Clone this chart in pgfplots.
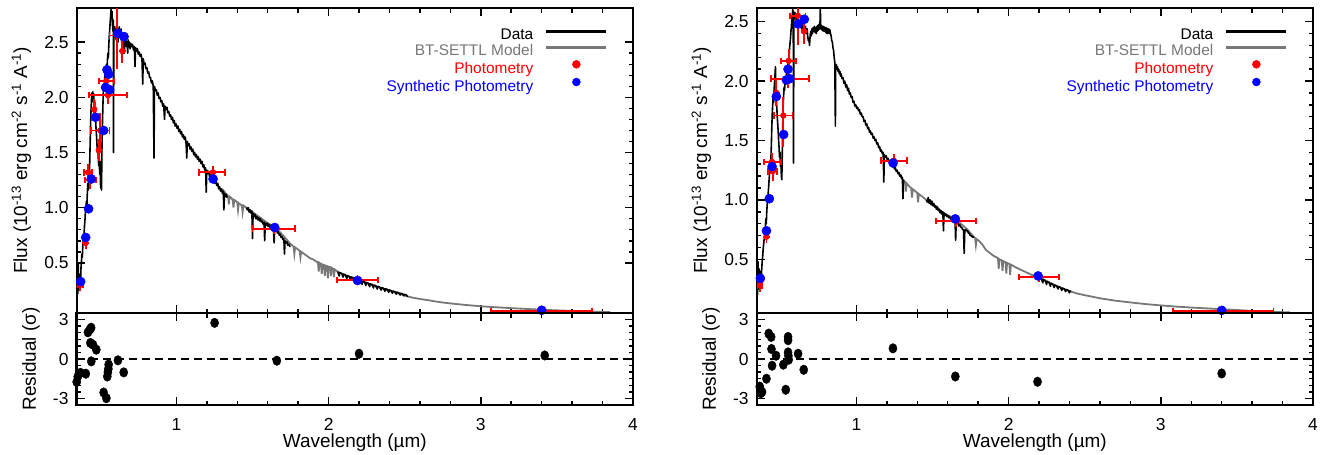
\documentclass[border=0pt]{standalone}
\usepackage{fontspec}
\setmainfont{Liberation Sans}
\usepackage{pgfplots}
\usepackage{pgfplotstable}
\pgfplotsset{compat=1.18}
\definecolor{modelgray}{RGB}{120,120,120}
\pgfplotsset{
 sedbase/.style={
  scale only axis, width=556.3bp, xmin=0.345, xmax=4,
  axis line style={line width=2.4bp},
  every tick/.style={black, line width=1.5bp},
  major tick length=8bp, minor tick length=4.5bp,
  tick align=inside,
  xtick={1,2,3,4}, minor x tick num=4,
  /pgf/number format/assume math mode=true,
  tick label style={font=\fontsize{17.5}{20}\selectfont},
  label style={font=\fontsize{19}{22}\selectfont},
 },
 sedmain/.style={sedbase, height=305bp, xticklabels={},
  ytick={0.5,1,1.5,2,2.5}, minor y tick num=4,
  yticklabel style={anchor=east, inner sep=0pt, xshift=-8bp, /pgf/number format/.cd, fixed, fixed zerofill, precision=1},
  ylabel={Flux (10\textsuperscript{-13} erg cm\textsuperscript{-2} s\textsuperscript{-1} A\textsuperscript{-1})},
  ylabel style={at={(axis description cs:-0.089,0.5)}, anchor=base},
  legend style={draw=none, fill=none, at={(0.955,0.934)}, anchor=north east, inner sep=0pt, outer sep=0pt,
    font=\fontsize{15.5}{16}\selectfont,
    nodes={inner sep=0pt, text height=11.5bp, text depth=3.5bp},
    /tikz/row sep=1bp, /tikz/column sep=11.5bp},
  legend cell align=right, legend plot pos=right,
 },
 sedres/.style={sedbase, height=92bp, ymin=-3.5, ymax=3.5,
  ytick={-3,0,3}, yticklabels={-3,0,3}, minor y tick num=5,
  yticklabel style={anchor=east, inner sep=0pt, xshift=-8bp},
  xticklabel style={anchor=base, yshift=-25bp},
  xlabel={Wavelength (µm)},
  xlabel style={at={(axis description cs:0.5,-0.467)}, anchor=base},
  ylabel={Residual (σ)},
  ylabel style={at={(axis description cs:-0.0732,0.5)}, anchor=base},
 },
 specdata/.style={black, line width=1.6bp, line join=round, forget plot},
 specmodel/.style={modelgray, line width=1.8bp, forget plot},
 photredx/.style={only marks, mark=*, mark size=2.8bp, red, forget plot,
   error bars/.cd, x dir=both, x explicit, error mark=|,
   error bar style={red, line width=1.8bp},
   error mark options={red, mark size=3.2bp, line width=1.8bp}},
 photredy/.style={only marks, mark=*, mark size=2.8bp, red, forget plot,
   error bars/.cd, y dir=both, y explicit, error mark=-,
   error bar style={red, line width=1.8bp},
   error mark options={red, mark size=3.2bp, line width=1.8bp}},
 photblue/.style={only marks, mark=*, mark size=4.6bp, blue, forget plot},
 resid/.style={only marks, mark=*, mark size=4.8bp, black, mark options={xscale=0.85}},
 zeroline/.style={black, line width=1.8bp, dash pattern=on 8bp off 5bp},
}
\newcommand{\sedlegend}{%
  \addlegendimage{legend image code/.code={\draw[black, line width=3.2bp] (0bp,4bp) -- (60bp,4bp);}}
  \addlegendentry{Data}
  \addlegendimage{legend image code/.code={\draw[modelgray, line width=3.2bp] (0bp,4bp) -- (60bp,4bp);}}
  \addlegendentry{\textcolor{modelgray}{BT-SETTL Model}}
  \addlegendimage{legend image code/.code={\fill[red] (30bp,5bp) circle (4bp);}}
  \addlegendentry{\textcolor{red}{Photometry}}
  \addlegendimage{legend image code/.code={\fill[blue] (30bp,5bp) circle (4bp);}}
  \addlegendentry{\textcolor{blue}{Synthetic Photometry}}
}
\pgfplotstableread[row sep=\\]{
x y xm xp ym yp\\
0.368 0.30 0.02 0.02 0.03 0.03\\
0.404 0.68 0 0 0.03 0.03\\
0.420 1.32 0.025 0.025 0.05 0.05\\
0.435 1.25 0.035 0.035 0.05 0.05\\
0.460 1.89 0 0 0.07 0.07\\
0.500 1.70 0.06 0.06 0.13 0.13\\
0.490 1.52 0 0 0.07 0.07\\
0.550 2.02 0.125 0.125 0.05 0.05\\
0.540 2.15 0.05 0.05 0.05 0.05\\
0.610 2.56 0.05 0.05 0.27 0.25\\
0.645 2.42 0 0 0.08 0.08\\
1.240 1.32 0.09 0.08 0.03 0.03\\
1.640 0.81 0.14 0.14 0.02 0.02\\
2.190 0.345 0.135 0.135 0.015 0.015\\
3.400 0.064 0.335 0.33 0.01 0.01\\
}\photL
\pgfplotstableread[row sep=\\]{
x y xm xp ym yp\\
0.365 0.28 0.015 0.015 0.03 0.03\\
0.409 0.69 0 0 0.03 0.03\\
0.445 1.32 0.05 0.06 0.05 0.05\\
0.450 1.24 0.03 0.03 0.05 0.05\\
0.474 1.90 0 0 0.08 0.08\\
0.520 1.71 0.06 0.06 0.24 0.13\\
0.550 2.02 0.11 0.14 0.05 0.05\\
0.555 2.17 0.05 0.05 0.07 0.07\\
0.615 2.55 0.05 0.05 0.22 0.07\\
0.655 2.42 0 0 0.08 0.08\\
1.245 1.33 0.085 0.085 0.03 0.03\\
1.655 0.82 0.13 0.13 0.02 0.02\\
2.200 0.35 0.13 0.13 0.015 0.015\\
3.410 0.067 0.33 0.33 0.01 0.01\\
}\photR
\begin{document}
\begin{tikzpicture}
\path[use as bounding box] (0,0) rectangle (1325bp,-455bp);
% ================= LEFT MAIN =================
\begin{axis}[sedmain, at={(76.7bp,-313bp)}, anchor=south west, ymin=0.045, ymax=2.81]
\addplot[specmodel] coordinates {(1.300,1.17)(1.330,1.12)(1.340,1.10)(1.345,1.03)(1.350,1.10)(1.360,1.09)(1.370,1.07)(1.375,1.00)(1.380,1.07)(1.390,1.06)(1.400,1.05)(1.405,0.98)(1.410,1.04)(1.420,1.03)(1.430,1.02)(1.435,0.96)(1.440,1.02)(1.450,1.01)(1.460,1.00)(1.500,0.96)(1.550,0.91)(1.600,0.86)(1.650,0.82)(1.700,0.75)(1.750,0.67)(1.760,0.66)(1.770,0.645)(1.775,0.58)(1.780,0.64)(1.800,0.62)(1.810,0.61)(1.815,0.55)(1.820,0.60)(1.840,0.58)(1.860,0.56)(1.880,0.54)(1.900,0.53)(1.920,0.51)(1.930,0.505)(1.935,0.42)(1.940,0.50)(1.950,0.49)(1.955,0.40)(1.960,0.485)(1.970,0.48)(1.975,0.38)(1.980,0.475)(1.990,0.47)(1.995,0.36)(2.000,0.465)(2.010,0.46)(2.015,0.38)(2.020,0.455)(2.030,0.445)(2.035,0.37)(2.040,0.44)(2.060,0.42)(2.100,0.39)(2.200,0.34)(2.300,0.29)(2.400,0.245)(2.500,0.205)(2.520,0.195)(2.550,0.185)(2.600,0.172)(2.650,0.162)(2.700,0.150)(2.750,0.140)(2.800,0.132)(2.850,0.125)(2.900,0.118)(2.950,0.112)(3.000,0.106)(3.100,0.097)(3.200,0.089)(3.300,0.082)(3.400,0.075)(3.500,0.069)(3.600,0.064)(3.700,0.059)(3.800,0.055)(3.850,0.053)};
\addplot[specdata] coordinates {(0.340,0.20)(0.343,0.42)(0.346,0.15)(0.349,0.45)(0.352,0.22)(0.355,0.50)(0.358,0.28)(0.361,0.40)(0.364,0.25)(0.367,0.38)(0.370,0.30)(0.373,0.45)(0.376,0.50)(0.379,0.58)(0.382,0.55)(0.385,0.65)(0.388,0.72)(0.391,0.68)(0.394,0.78)(0.397,0.85)(0.400,0.90)(0.403,0.98)(0.406,1.00)(0.409,1.06)(0.412,1.02)(0.415,1.14)(0.418,1.22)(0.421,1.16)(0.424,1.26)(0.427,1.30)(0.430,1.38)(0.433,1.56)(0.436,1.74)(0.439,1.88)(0.442,1.97)(0.445,2.04)(0.448,1.96)(0.451,2.05)(0.454,1.98)(0.457,2.03)(0.460,1.92)(0.463,1.97)(0.466,1.86)(0.469,1.80)(0.472,1.72)(0.475,1.66)(0.478,1.58)(0.481,1.50)(0.484,1.56)(0.487,1.44)(0.490,1.38)(0.493,1.46)(0.496,1.30)(0.499,1.42)(0.502,1.18)(0.505,1.40)(0.508,1.16)(0.511,1.55)(0.514,1.75)(0.517,1.92)(0.520,2.05)(0.523,2.12)(0.526,2.08)(0.529,2.18)(0.532,2.22)(0.535,2.16)(0.538,2.26)(0.541,2.30)(0.544,2.24)(0.547,2.34)(0.550,2.40)(0.553,2.36)(0.556,2.48)(0.559,2.55)(0.562,2.62)(0.565,2.68)(0.568,2.74)(0.571,2.80)(0.574,2.72)(0.577,2.78)(0.580,2.66)(0.583,2.60)(0.586,2.70)(0.587,1.50)(0.589,2.62)(0.592,2.58)(0.595,2.64)(0.598,2.55)(0.601,2.60)(0.604,2.52)(0.607,2.62)(0.610,2.56)(0.613,2.60)(0.616,2.50)(0.619,2.62)(0.622,2.58)(0.625,2.64)(0.628,2.54)(0.631,2.60)(0.634,2.56)(0.637,2.62)(0.640,2.50)(0.643,2.58)(0.646,2.54)(0.649,2.46)(0.652,2.56)(0.655,2.52)(0.658,2.40)(0.661,2.54)(0.664,2.50)(0.668,2.52)(0.672,2.46)(0.676,2.50)(0.680,2.40)(0.684,2.52)(0.688,2.48)(0.692,2.50)(0.696,2.44)(0.700,2.49)(0.706,2.46)(0.712,2.48)(0.718,2.43)(0.724,2.46)(0.728,2.28)(0.732,2.45)(0.738,2.42)(0.744,2.44)(0.750,2.39)(0.756,2.41)(0.762,2.37)(0.768,2.39)(0.774,2.34)(0.779,2.12)(0.782,2.35)(0.788,2.30)(0.794,2.31)(0.800,2.26)(0.806,2.27)(0.812,2.22)(0.818,2.23)(0.824,2.18)(0.830,2.18)(0.836,2.13)(0.842,2.15)(0.848,2.10)(0.853,1.45)(0.856,2.10)(0.862,2.06)(0.868,2.07)(0.874,2.02)(0.880,2.04)(0.886,1.99)(0.892,2.00)(0.898,1.96)(0.904,1.97)(0.910,1.92)(0.916,1.94)(0.922,1.80)(0.926,1.92)(0.932,1.89)(0.938,1.91)(0.944,1.86)(0.950,1.87)(0.956,1.83)(0.962,1.84)(0.968,1.80)(0.974,1.82)(0.980,1.77)(0.986,1.79)(0.992,1.74)(0.998,1.76)(1.004,1.72)(1.010,1.74)(1.016,1.69)(1.022,1.71)(1.028,1.67)(1.034,1.69)(1.040,1.64)(1.046,1.66)(1.052,1.62)(1.058,1.64)(1.064,1.58)(1.068,1.45)(1.072,1.60)(1.078,1.56)(1.084,1.58)(1.090,1.53)(1.096,1.55)(1.102,1.51)(1.108,1.53)(1.114,1.48)(1.120,1.50)(1.126,1.46)(1.132,1.48)(1.138,1.44)(1.144,1.46)(1.150,1.42)(1.156,1.44)(1.162,1.40)(1.168,1.42)(1.174,1.37)(1.180,1.39)(1.186,1.34)(1.192,1.36)(1.196,1.14)(1.200,1.34)(1.206,1.31)(1.212,1.33)(1.218,1.28)(1.224,1.30)(1.230,1.26)(1.236,1.28)(1.242,1.24)(1.248,1.26)(1.254,1.22)(1.260,1.24)(1.266,1.20)(1.272,1.22)(1.278,1.17)(1.284,1.19)(1.290,1.15)(1.296,1.17)(1.302,1.13)(1.308,1.15)(1.312,0.98)(1.316,1.13)(1.322,1.10)(1.328,1.12)(1.333,1.09)};
\addplot[specdata] coordinates {(1.460,1.00)(1.466,0.98)(1.472,1.00)(1.478,0.96)(1.484,0.98)(1.490,0.95)(1.496,0.97)(1.500,0.72)(1.504,0.95)(1.510,0.92)(1.516,0.94)(1.522,0.90)(1.528,0.92)(1.534,0.89)(1.540,0.91)(1.546,0.88)(1.552,0.90)(1.558,0.87)(1.564,0.88)(1.570,0.85)(1.576,0.87)(1.580,0.70)(1.584,0.86)(1.590,0.84)(1.596,0.86)(1.602,0.83)(1.608,0.85)(1.614,0.82)(1.620,0.84)(1.626,0.81)(1.632,0.83)(1.638,0.80)(1.642,0.68)(1.646,0.81)(1.652,0.79)(1.658,0.80)(1.664,0.77)(1.670,0.78)(1.676,0.75)(1.682,0.76)(1.688,0.73)(1.694,0.74)(1.700,0.71)(1.706,0.72)(1.710,0.58)(1.714,0.70)(1.720,0.68)(1.726,0.69)(1.732,0.66)(1.738,0.67)(1.744,0.65)(1.750,0.65)};
\addplot[specdata] coordinates {(2.060,0.420)(2.070,0.380)(2.072,0.412)(2.085,0.405)(2.095,0.370)(2.097,0.398)(2.110,0.392)(2.120,0.355)(2.122,0.385)(2.135,0.378)(2.145,0.342)(2.147,0.372)(2.160,0.365)(2.170,0.330)(2.172,0.358)(2.185,0.352)(2.195,0.318)(2.197,0.346)(2.210,0.340)(2.220,0.305)(2.222,0.334)(2.235,0.328)(2.245,0.294)(2.247,0.322)(2.260,0.316)(2.270,0.283)(2.272,0.310)(2.285,0.304)(2.295,0.272)(2.297,0.298)(2.310,0.292)(2.320,0.262)(2.322,0.287)(2.335,0.281)(2.345,0.252)(2.347,0.276)(2.360,0.270)(2.370,0.242)(2.372,0.265)(2.385,0.259)(2.395,0.233)(2.397,0.254)(2.410,0.249)(2.420,0.224)(2.422,0.244)(2.435,0.239)(2.445,0.216)(2.447,0.234)(2.460,0.229)(2.470,0.208)(2.472,0.224)(2.485,0.219)(2.495,0.200)(2.497,0.214)(2.510,0.209)(2.520,0.192)};
\addplot[photredx] table[x=x, y=y, x error minus=xm, x error plus=xp] {\photL};
\addplot[photredy] table[x=x, y=y, y error minus=ym, y error plus=yp] {\photL};
\addplot[photblue] coordinates {(0.371,0.33)(0.404,0.73)(0.423,0.99)(0.441,1.26)(0.469,1.82)(0.522,1.70)(0.535,2.09)(0.561,2.07)(0.544,2.25)(0.555,2.21)(0.616,2.58)(0.656,2.55)(1.241,1.26)(1.646,0.82)(2.190,0.34)(3.400,0.07)};
\sedlegend
\end{axis}
% ================= LEFT RESIDUAL =================
\begin{axis}[sedres, at={(76.7bp,-405bp)}, anchor=south west]
\addplot[zeroline] coordinates {(0.345,0) (4,0)};
\addplot[resid] coordinates {(0.345,-1.75)(0.352,-1.35)(0.370,-1.05)(0.405,-1.12)(0.419,2.03)(0.432,2.25)(0.440,2.38)(0.435,1.22)(0.452,1.09)(0.474,0.71)(0.441,-0.18)(0.522,-2.55)(0.540,-2.98)(0.546,-1.33)(0.550,-1.0)(0.553,-0.75)(0.555,-0.42)(0.616,-0.1)(0.654,-1.02)(1.251,2.75)(1.660,-0.13)(2.200,0.4)(3.420,0.27)};
\end{axis}
% ================= RIGHT MAIN =================
\begin{axis}[sedmain, at={(756.7bp,-313bp)}, anchor=south west, ymin=0.048, ymax=2.615]
\addplot[specmodel] coordinates {(1.280,1.21)(1.300,1.18)(1.320,1.15)(1.325,1.07)(1.330,1.14)(1.350,1.11)(1.360,1.10)(1.365,1.02)(1.370,1.09)(1.390,1.07)(1.400,1.06)(1.405,0.98)(1.410,1.05)(1.430,1.03)(1.450,1.01)(1.460,1.00)(1.510,0.96)(1.570,0.89)(1.650,0.84)(1.730,0.75)(1.770,0.69)(1.780,0.68)(1.785,0.62)(1.790,0.67)(1.810,0.65)(1.830,0.62)(1.850,0.58)(1.870,0.56)(1.900,0.53)(1.930,0.51)(1.935,0.42)(1.940,0.50)(1.955,0.49)(1.960,0.40)(1.965,0.485)(1.980,0.475)(1.985,0.38)(1.990,0.47)(2.005,0.46)(2.010,0.37)(2.015,0.455)(2.030,0.445)(2.050,0.43)(2.100,0.40)(2.150,0.37)(2.200,0.35)(2.300,0.285)(2.400,0.232)(2.450,0.212)(2.500,0.198)(2.550,0.185)(2.600,0.172)(2.700,0.152)(2.800,0.137)(2.900,0.123)(3.000,0.112)(3.100,0.102)(3.200,0.094)(3.300,0.087)(3.400,0.080)(3.500,0.073)(3.600,0.066)(3.700,0.060)(3.800,0.055)(3.850,0.053)};
\addplot[specdata] coordinates {(0.345,0.22)(0.348,0.45)(0.351,0.20)(0.354,0.48)(0.357,0.25)(0.360,0.42)(0.363,0.28)(0.366,0.40)(0.369,0.30)(0.372,0.36)(0.375,0.33)(0.378,0.42)(0.381,0.48)(0.384,0.52)(0.387,0.58)(0.390,0.62)(0.393,0.66)(0.396,0.68)(0.399,0.72)(0.402,0.78)(0.405,0.84)(0.408,0.80)(0.411,0.90)(0.414,0.96)(0.417,1.00)(0.420,1.05)(0.423,1.10)(0.426,1.16)(0.429,1.22)(0.432,1.26)(0.435,1.30)(0.438,1.33)(0.441,1.45)(0.444,1.60)(0.447,1.72)(0.450,1.80)(0.453,1.86)(0.456,1.82)(0.459,1.92)(0.462,1.98)(0.465,2.05)(0.468,2.12)(0.471,1.95)(0.474,1.85)(0.477,1.78)(0.480,1.70)(0.483,1.64)(0.486,1.58)(0.489,1.50)(0.492,1.44)(0.495,1.36)(0.498,1.40)(0.501,1.28)(0.504,1.34)(0.507,1.20)(0.510,1.17)(0.513,1.40)(0.516,1.62)(0.519,1.80)(0.522,1.88)(0.525,1.95)(0.528,1.92)(0.531,1.98)(0.534,2.02)(0.537,1.98)(0.540,2.06)(0.543,2.10)(0.546,2.06)(0.549,2.14)(0.552,2.18)(0.555,2.14)(0.558,2.22)(0.561,2.28)(0.564,2.32)(0.567,2.36)(0.570,2.42)(0.573,2.46)(0.576,2.52)(0.579,2.56)(0.582,2.60)(0.585,2.58)(0.587,1.31)(0.589,2.55)(0.592,2.52)(0.595,2.58)(0.598,2.54)(0.601,2.57)(0.604,2.52)(0.607,2.56)(0.610,2.50)(0.613,2.54)(0.616,2.48)(0.619,2.52)(0.622,2.47)(0.625,2.51)(0.628,2.46)(0.631,2.50)(0.634,2.45)(0.637,2.49)(0.640,2.44)(0.643,2.50)(0.646,2.46)(0.649,2.42)(0.652,2.48)(0.655,2.44)(0.658,2.47)(0.661,2.42)(0.664,2.46)(0.668,2.44)(0.672,2.40)(0.676,2.44)(0.680,2.38)(0.684,2.34)(0.688,2.36)(0.692,2.30)(0.696,2.38)(0.700,2.42)(0.704,2.38)(0.708,2.44)(0.712,2.40)(0.716,2.45)(0.720,2.42)(0.724,2.46)(0.728,2.41)(0.732,2.45)(0.736,2.40)(0.740,2.46)(0.744,2.42)(0.748,2.47)(0.752,2.43)(0.756,2.48)(0.760,2.44)(0.763,2.61)(0.766,2.44)(0.770,2.47)(0.774,2.43)(0.778,2.46)(0.782,2.42)(0.786,2.46)(0.790,2.42)(0.794,2.45)(0.798,2.41)(0.802,2.45)(0.806,2.40)(0.810,2.44)(0.814,2.40)(0.818,2.44)(0.822,2.40)(0.826,2.43)(0.830,2.40)(0.834,2.38)(0.838,2.34)(0.842,2.33)(0.846,2.28)(0.850,2.26)(0.854,2.20)(0.858,2.16)(0.862,1.62)(0.864,2.12)(0.868,2.14)(0.872,2.10)(0.876,2.12)(0.880,2.08)(0.884,2.10)(0.888,2.06)(0.892,2.08)(0.896,2.04)(0.900,2.06)(0.906,2.02)(0.912,2.03)(0.918,1.98)(0.924,2.00)(0.930,1.95)(0.936,1.97)(0.942,1.92)(0.948,1.94)(0.954,1.89)(0.960,1.90)(0.966,1.86)(0.972,1.87)(0.978,1.82)(0.984,1.83)(0.990,1.79)(0.996,1.80)(1.002,1.77)(1.008,1.78)(1.014,1.75)(1.020,1.76)(1.026,1.72)(1.032,1.73)(1.038,1.70)(1.044,1.70)(1.050,1.66)(1.056,1.67)(1.062,1.63)(1.068,1.64)(1.074,1.60)(1.080,1.61)(1.086,1.57)(1.092,1.58)(1.098,1.55)(1.104,1.56)(1.110,1.52)(1.116,1.53)(1.122,1.50)(1.128,1.51)(1.134,1.47)(1.140,1.48)(1.146,1.44)(1.152,1.45)(1.158,1.41)(1.164,1.42)(1.170,1.39)(1.176,1.40)(1.180,1.15)(1.184,1.38)(1.190,1.36)(1.196,1.37)(1.202,1.34)(1.208,1.35)(1.214,1.32)(1.220,1.33)(1.226,1.30)(1.232,1.31)(1.238,1.28)(1.244,1.29)(1.250,1.26)(1.256,1.27)(1.262,1.24)(1.268,1.25)(1.274,1.22)(1.280,1.23)(1.286,1.20)(1.292,1.21)(1.298,1.18)(1.302,1.19)(1.306,1.01)(1.310,1.17)};
\addplot[specdata] coordinates {(1.460,1.00)(1.466,0.98)(1.472,1.02)(1.478,0.97)(1.484,1.00)(1.490,0.96)(1.496,0.99)(1.502,0.95)(1.508,0.97)(1.514,0.94)(1.520,0.95)(1.526,0.92)(1.532,0.94)(1.538,0.91)(1.544,0.92)(1.550,0.89)(1.556,0.91)(1.562,0.88)(1.568,0.90)(1.572,0.74)(1.576,0.89)(1.582,0.87)(1.588,0.88)(1.594,0.86)(1.600,0.87)(1.606,0.85)(1.612,0.86)(1.618,0.84)(1.624,0.85)(1.630,0.83)(1.636,0.84)(1.642,0.82)(1.648,0.83)(1.652,0.66)(1.656,0.82)(1.662,0.80)(1.668,0.81)(1.674,0.78)(1.680,0.79)(1.686,0.77)(1.692,0.77)(1.698,0.75)(1.704,0.75)(1.708,0.55)(1.712,0.74)(1.718,0.75)(1.724,0.74)(1.730,0.74)(1.736,0.72)(1.742,0.72)(1.748,0.70)(1.754,0.70)(1.760,0.69)(1.766,0.69)(1.770,0.68)};
\addplot[specdata] coordinates {(2.190,0.352)(2.200,0.318)(2.202,0.344)(2.215,0.336)(2.225,0.302)(2.227,0.328)(2.240,0.320)(2.250,0.288)(2.252,0.312)(2.265,0.305)(2.275,0.274)(2.277,0.297)(2.290,0.290)(2.300,0.262)(2.302,0.283)(2.315,0.276)(2.325,0.250)(2.327,0.270)(2.340,0.263)(2.350,0.238)(2.352,0.257)(2.365,0.251)(2.375,0.228)(2.377,0.245)(2.390,0.240)(2.400,0.218)(2.402,0.234)(2.410,0.228)};
\addplot[photredx] table[x=x, y=y, x error minus=xm, x error plus=xp] {\photR};
\addplot[photredy] table[x=x, y=y, y error minus=ym, y error plus=yp] {\photR};
\addplot[photblue] coordinates {(0.369,0.34)(0.409,0.74)(0.428,1.01)(0.446,1.28)(0.474,1.87)(0.522,1.55)(0.540,2.01)(0.551,2.10)(0.562,2.02)(0.617,2.48)(0.658,2.52)(1.241,1.31)(1.650,0.84)(2.194,0.36)(3.400,0.07)};
\sedlegend
\end{axis}
% ================= RIGHT RESIDUAL =================
\begin{axis}[sedres, at={(756.7bp,-405bp)}, anchor=south west]
\addplot[zeroline] coordinates {(0.345,0) (4,0)};
\addplot[resid] coordinates {(0.365,-2.1)(0.372,-2.6)(0.380,-2.5)(0.409,-1.5)(0.424,1.93)(0.440,1.68)(0.442,0.76)(0.446,-0.51)(0.472,0.25)(0.520,-0.43)(0.536,-2.34)(0.551,1.68)(0.551,1.43)(0.551,0.5)(0.553,0.25)(0.555,-0.05)(0.617,0.4)(0.654,-0.82)(1.240,0.81)(1.650,-1.33)(2.190,-1.73)(3.400,-1.1)};
\end{axis}
\end{tikzpicture}
\end{document}
